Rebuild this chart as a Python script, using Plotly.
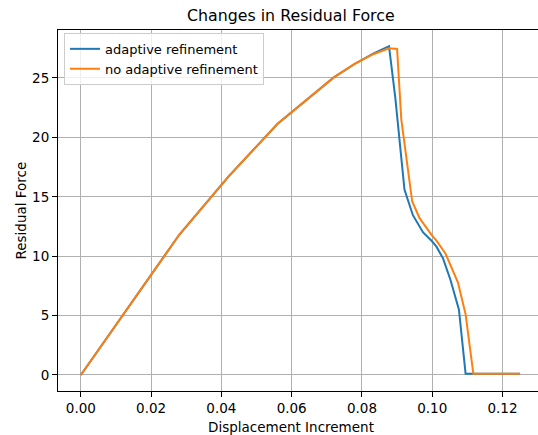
import plotly.graph_objects as go

# Displacement increments and residual forces, adaptive refinement run
adaptive_x = [0.0, 0.014, 0.028, 0.042, 0.056, 0.072, 0.078, 0.0832, 0.0877,
              0.0895, 0.0921, 0.0945, 0.0974, 0.0998, 0.1012, 0.1031, 0.1052,
              0.1076, 0.1095, 0.125]
adaptive_y = [0.0, 5.95, 11.8, 16.7, 21.15, 25.05, 26.2, 27.05, 27.68,
              23.3, 15.6, 13.45, 12.0, 11.3, 10.8, 9.8, 8.0,
              5.5, 0.1, 0.1]

# Same loading without adaptive refinement
fixed_x = [0.0, 0.014, 0.028, 0.042, 0.056, 0.072, 0.078, 0.0832, 0.0877,
           0.0900, 0.0912, 0.0943, 0.0964, 0.0998, 0.1012, 0.1038, 0.1055,
           0.1073, 0.1095, 0.1117, 0.125]
fixed_y = [0.0, 5.95, 11.8, 16.7, 21.15, 25.05, 26.2, 27.0, 27.5,
           27.45, 21.5, 14.6, 13.2, 11.8, 11.3, 10.2, 9.0,
           7.8, 5.1, 0.1, 0.1]

x_ticks = [0.0, 0.02, 0.04, 0.06, 0.08, 0.10, 0.12]
x_tick_labels = ["0.00", "0.02", "0.04", "0.06", "0.08", "0.10", "0.12"]
y_ticks = [0, 5, 10, 15, 20, 25]

BLUE = "#1f77b4"
ORANGE = "#ff7f0e"
FONT = "DejaVu Sans"

fig = go.Figure()
fig.add_trace(go.Scatter(x=adaptive_x, y=adaptive_y, mode="lines",
                         name="adaptive refinement",
                         line=dict(color=BLUE, width=2)))
fig.add_trace(go.Scatter(x=fixed_x, y=fixed_y, mode="lines",
                         name="no adaptive refinement",
                         line=dict(color=ORANGE, width=2)))

axis_common = dict(
    showgrid=True, gridcolor="#b0b0b0", gridwidth=1,
    showline=True, linecolor="black", linewidth=1, mirror=True,
    ticks="outside", ticklen=5, tickwidth=1, tickcolor="black",
    zeroline=False,
    tickfont=dict(family=FONT, size=13.5, color="black"),
)

fig.update_xaxes(range=[-0.0065, 0.1301], tickvals=x_ticks,
                 ticktext=x_tick_labels, **axis_common)
fig.update_yaxes(range=[-1.35, 29.04], tickvals=y_ticks, **axis_common)

fig.update_layout(
    width=538, height=435,
    margin=dict(l=58, r=0, t=30, b=44),
    plot_bgcolor="white", paper_bgcolor="white",
    font=dict(family=FONT, size=13, color="black"),
    showlegend=True,
    legend=dict(x=0.0125, y=0.992, xanchor="left", yanchor="top",
                bgcolor="rgba(255,255,255,0.8)", bordercolor="#cccccc",
                borderwidth=1, font=dict(family=FONT, size=13),
                tracegroupgap=0, itemwidth=30),
    annotations=[
        dict(text="Changes in Residual Force", x=0.486, y=1.0,
             xref="paper", yref="paper", yshift=3,
             xanchor="center", yanchor="bottom", showarrow=False,
             font=dict(family=FONT, size=15.8, color="black")),
        dict(text="Displacement Increment", x=0.486, y=0,
             xref="paper", yref="paper", yshift=-26,
             xanchor="center", yanchor="top", showarrow=False,
             font=dict(family=FONT, size=13.5, color="black")),
        dict(text="Residual Force", x=0, y=0.5,
             xref="paper", yref="paper", xshift=-38,
             xanchor="center", yanchor="middle", showarrow=False,
             textangle=-90,
             font=dict(family=FONT, size=13.5, color="black")),
    ],
)

fig.write_html("out.html")
